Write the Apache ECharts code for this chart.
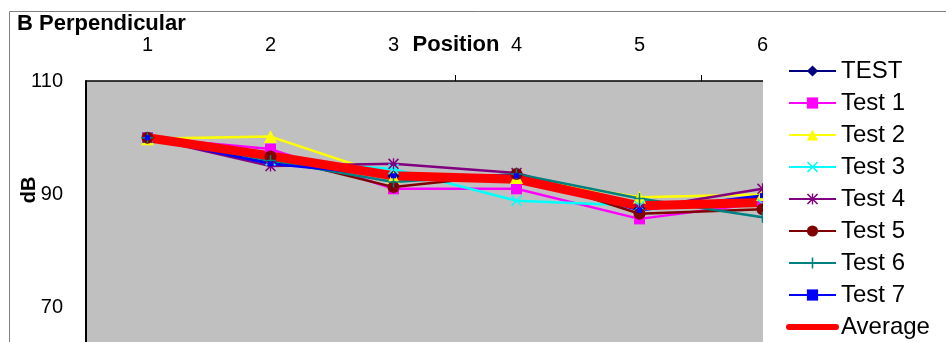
<!DOCTYPE html>
<html><head><meta charset="utf-8">
<script src="https://cdn.jsdelivr.net/npm/echarts@6/dist/echarts.min.js"></script>
<style>html,body{margin:0;padding:0;background:#fff}#c{width:946px;height:342px}</style>
</head><body><div id="c"></div>
<script>
var categories = ['1','2','3','4','5','6'];
var seriesNames = ['TEST','Test 1','Test 2','Test 3','Test 4','Test 5','Test 6','Test 7','Average'];
var testVals   = [100, 95.8, 93.2, 93.2, 87.5, 89.5];
var test1Vals  = [100, 98.0, 91.0, 91.0, 85.7, 88.5];
var test2Vals  = [99.8, 100.2, 93.0, 93.0, 89.5, 90.0];
var test3Vals  = [100, 96.0, 94.5, 88.9, 88.0, 88.3];
var test4Vals  = [100, 95.0, 95.4, 93.8, 87.5, 91.0];
var test5Vals  = [100, 96.7, 91.3, 93.6, 86.6, 87.4];
var test6Vals  = [100, 96.0, 92.2, 93.6, 89.3, 86.0];
var test7Vals  = [100, 95.4, 93.3, 93.3, 87.2, 89.8];
var avgVals    = [100, 96.8, 93.3, 92.7, 88.0, 88.6];
var yTickLabels = [70, 90, 110];

var FONT = 'Liberation Sans, Arial, sans-serif';
var X_PATH = 'path://M0,1 L1,0 L5,4 L9,0 L10,1 L6,5 L10,9 L9,10 L5,6 L1,10 L0,9 L4,5 Z';
var STAR_PATH = 'path://M0,1 L1,0 L5,4 L9,0 L10,1 L6,5 L10,9 L9,10 L5,6 L1,10 L0,9 L4,5 Z M4.4,0 L5.6,0 L5.6,10 L4.4,10 Z';
var PLUS_PATH = 'path://M4.3,0 L5.7,0 L5.7,4.3 L10,4.3 L10,5.7 L5.7,5.7 L5.7,10 L4.3,10 L4.3,5.7 L0,5.7 L0,4.3 L4.3,4.3 Z';

function mk(name, data, color, symbol, size, width) {
  return {
    name: name, type: 'line', data: data,
    symbol: symbol, symbolSize: size, showSymbol: symbol !== 'none',
    lineStyle: { color: color, width: width },
    itemStyle: { color: color, borderWidth: 0 },
    emphasis: { disabled: true },
    animation: false
  };
}

var legendData = seriesNames.map(function (n) {
  if (n === 'Average') {
    return { name: n, itemStyle: { color: 'rgba(0,0,0,0)', borderWidth: 0 },
      lineStyle: { width: 6, cap: 'round' } };
  }
  return { name: n };
});

var chart = echarts.init(document.getElementById('c'), null, { renderer: 'canvas' });
chart.setOption({
  animation: false,
  backgroundColor: '#ffffff',
  textStyle: { fontFamily: FONT },
  title: {
    text: 'B Perpendicular', left: 12, top: 8,
    textStyle: { fontSize: 22, fontWeight: 'bold', color: '#000', fontFamily: FONT }
  },
  grid: {
    left: 86, top: 81, width: 738, bottom: 0,
    show: true, backgroundColor: '#C0C0C0', borderWidth: 0, containLabel: false
  },
  xAxis: {
    type: 'category', data: categories, position: 'top', boundaryGap: true,
    axisLine: { show: true, lineStyle: { color: '#000', width: 1.5 } },
    axisTick: { show: true, length: 6, lineStyle: { color: '#000' },
      interval: function (i) { return i === 3 || i === 5; } },
    axisLabel: { fontSize: 20, color: '#000', margin: 26, fontFamily: FONT },
    splitLine: { show: false }
  },
  yAxis: {
    type: 'value', min: 64, max: 110, interval: 2,
    axisLine: { show: true, lineStyle: { color: '#000', width: 2 } },
    axisTick: { show: false },
    axisLabel: { fontSize: 20, color: '#000', margin: 23, fontFamily: FONT, showMinLabel: true, showMaxLabel: true,
      formatter: function (v) { return yTickLabels.indexOf(v) >= 0 ? String(v) : ''; } },
    splitLine: { show: false }
  },
  legend: {
    orient: 'vertical', left: 763, top: 57,
    padding: [2, 10, 0, 23],
    itemWidth: 47, itemHeight: 14, itemGap: 8,
    data: legendData, z: 10,
    textStyle: { fontSize: 24, color: '#000', fontFamily: FONT }
  },
  graphic: [
    { type: 'rect', left: 7, top: 9, z: -10, silent: true,
      shape: { width: 960, height: 400 },
      style: { fill: 'none', stroke: '#808080', lineWidth: 1 } },
    { type: 'rect', x: 763, y: 55, z: 5, silent: true,
      shape: { width: 200, height: 300 },
      style: { fill: '#ffffff' } },
    { type: 'text', x: 456, y: 45, silent: true,
      style: { text: 'Position', fill: '#000', font: 'bold 22px ' + FONT,
        textAlign: 'center', textVerticalAlign: 'middle' } },
    { type: 'text', x: 29, y: 190, rotation: Math.PI / 2, silent: true,
      style: { text: 'dB', fill: '#000', font: 'bold 20px ' + FONT,
        textAlign: 'center', textVerticalAlign: 'middle' } }
  ],
  series: [
    mk('TEST', testVals, '#000080', 'diamond', 12, 2.5),
    mk('Test 1', test1Vals, '#FF00FF', 'rect', 11, 2.5),
    mk('Test 2', test2Vals, '#FFFF00', 'triangle', 13, 2.5),
    mk('Test 3', test3Vals, '#00FFFF', X_PATH, 11, 2.5),
    mk('Test 4', test4Vals, '#800080', STAR_PATH, 11, 2.5),
    mk('Test 5', test5Vals, '#800000', 'circle', 12, 2.5),
    mk('Test 6', test6Vals, '#008080', PLUS_PATH, 11, 2.5),
    mk('Test 7', test7Vals, '#0000FF', 'rect', 5, 2.5),
    mk('Average', avgVals, '#FF0000', 'none', 0, 9)
  ]
});
</script></body></html>
